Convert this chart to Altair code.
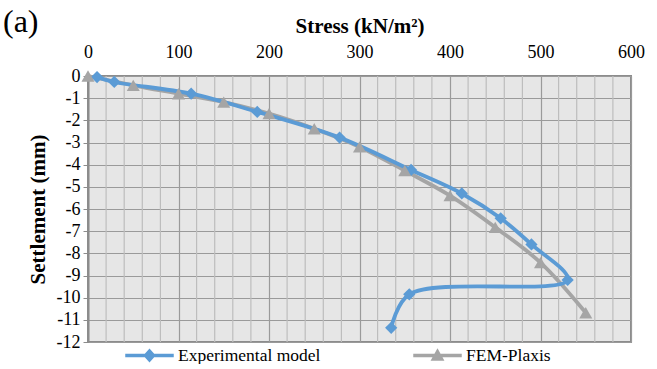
import altair as alt
import pandas as pd

# Experimental model (plate load test)
exp_stress = [10, 29, 114, 187, 278, 357, 413, 456, 490, 530, 355, 335]
exp_settle = [-0.05, -0.27, -0.8, -1.62, -2.78, -4.24, -5.3, -6.42, -7.6, -9.2, -9.85, -11.36]

# FEM-Plaxis simulation
fem_stress = [0, 50, 100, 150, 200, 250, 300, 350, 400, 450, 500, 550]
fem_settle = [0, -0.42, -0.8, -1.18, -1.7, -2.38, -3.2, -4.27, -5.4, -6.83, -8.42, -10.68]

series_names = ["Experimental model", "FEM-Plaxis"]
series_colors = ["#5B9BD5", "#A5A5A5"]

x_major = [0, 100, 200, 300, 400, 500, 600]
x_minor = [v for v in range(20, 600, 20) if v % 100 != 0]
y_ticks = list(range(-12, 1))

exp_df = pd.DataFrame({"stress": exp_stress, "settle": exp_settle,
                       "idx": range(len(exp_stress)), "series": series_names[0]})
fem_df = pd.DataFrame({"stress": fem_stress, "settle": fem_settle,
                       "idx": range(len(fem_stress)), "series": series_names[1]})
minor_df = pd.DataFrame({"stress": x_minor})

FONT = "Liberation Serif"

x_scale = alt.Scale(domain=[0, 600], nice=False)
y_scale = alt.Scale(domain=[-12, 0], nice=False)

x_axis = alt.Axis(orient="top", values=x_major, title="Stress (kN/m²)",
                  grid=True, gridColor="#9a9a9a", gridWidth=1.2,
                  ticks=False, domain=False, labelPadding=15,
                  labelOverlap=False, labelFlush=False, titlePadding=7)
y_axis = alt.Axis(values=y_ticks, title="Settlement (mm)",
                  labelExpr="'' + datum.value", labelOverlap=False,
                  labelFlush=False,
                  grid=True, gridColor="#9a9a9a", gridWidth=1.2,
                  ticks=True, tickSize=5, tickColor="#8c8c8c",
                  domain=True, domainColor="#8c8c8c", domainWidth=2,
                  labelPadding=3, titlePadding=8)

x_enc = alt.X("stress:Q", scale=x_scale, axis=x_axis)
y_enc = alt.Y("settle:Q", scale=y_scale, axis=y_axis)

minor = alt.Chart(minor_df).mark_rule(color="#bdbdbd", strokeWidth=1.2).encode(
    x=x_enc
)


def series_layers(df, color, shape, size):
    line = alt.Chart(df).mark_line(color=color, strokeWidth=3.8,
                                   interpolate="catmull-rom").encode(
        x=x_enc, y=y_enc, order="idx:Q")
    pts = alt.Chart(df).mark_point(shape=shape, filled=True, opacity=1,
                                   color=color, size=size).encode(
        x=x_enc, y=y_enc)
    return line, pts


exp_line, exp_pts = series_layers(exp_df, series_colors[0], "diamond", 150)
fem_line, fem_pts = series_layers(fem_df, series_colors[1], "triangle-up", 170)

# legend symbols: a short line segment with the series marker on it
legend_paths = [
    "M-1.4,-0.1H1.4V0.1H-1.4Z M0,-0.4L0.36,0L0,0.4L-0.36,0Z",
    "M-1.4,-0.1H1.4V0.1H-1.4Z M0,-0.42L0.4,0.3L-0.4,0.3Z",
]
legend_df = pd.concat([exp_df, fem_df])
# the legend layer draws no marks; its scales carry the explicit series domain
legend_layer = alt.Chart(legend_df).mark_point(filled=True, opacity=1).encode(
    x=x_enc,
    y=y_enc,
    color=alt.Color("series:N",
                    scale=alt.Scale(domain=series_names, range=series_colors),
                    legend=alt.Legend(orient="none", legendX=44, legendY=262,
                                      direction="horizontal", title=None,
                                      symbolSize=1200, symbolStrokeWidth=0,
                                      labelFont=FONT, labelFontSize=17.5,
                                      labelColor="#000000", columnPadding=92,
                                      labelOffset=11)),
    shape=alt.Shape("series:N",
                    scale=alt.Scale(domain=series_names, range=legend_paths),
                    legend=alt.Legend(orient="none", legendX=44, legendY=262,
                                      direction="horizontal", title=None)),
).transform_filter("datum.idx < 0")

chart = alt.layer(
    minor, fem_line, exp_line, exp_pts, fem_pts, legend_layer
).properties(
    width=543, height=266,
    padding={"left": 3, "top": 6, "right": 12, "bottom": 0},
    title=alt.TitleParams("(a)", anchor="start", frame="bounds", font=FONT,
                          fontSize=32, fontWeight="normal", color="#000000",
                          dx=-24, dy=0, offset=-24)
).configure_view(
    fill="#e6e6e6", stroke="#8c8c8c", strokeWidth=2
).configure_axis(
    labelFont=FONT, labelFontSize=18, labelColor="#000000",
    titleFont=FONT, titleFontSize=21, titleFontWeight="bold", titleColor="#000000"
)

chart.save("out.html", embed_options={"renderer": "svg", "actions": False})
